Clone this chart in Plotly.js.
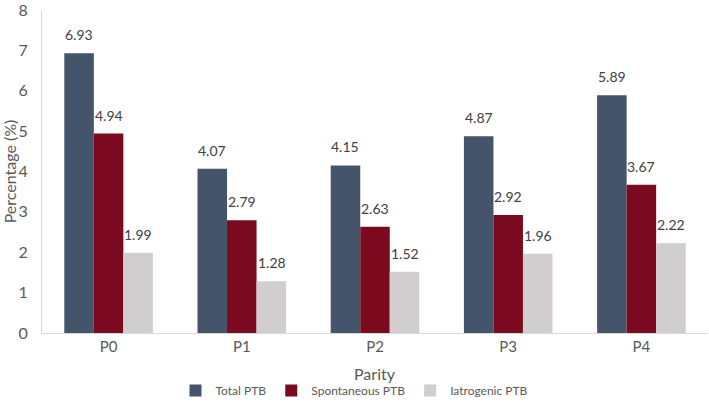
<!DOCTYPE html>
<html>
<head>
<meta charset="utf-8">
<script src="https://cdn.plot.ly/plotly-3.0.1.min.js"></script>
<style>
  html, body { margin: 0; padding: 0; background: #fff; }
  #chart { width: 709px; height: 407px; }
</style>
</head>
<body>
<div id="chart"></div>
<script>
// parity groups
const parity = ['P0', 'P1', 'P2', 'P3', 'P4']

// preterm birth rates (%)
const totalPTB = [6.93, 4.07, 4.15, 4.87, 5.89]
const spontaneousPTB = [4.94, 2.79, 2.63, 2.92, 3.67]
const iatrogenicPTB = [1.99, 1.28, 1.52, 1.96, 2.22]

const fontFamily = 'Lato, "Open Sans", sans-serif'

const series = [
  {name: 'Total PTB', values: totalPTB, color: '#44546A'},
  {name: 'Spontaneous PTB', values: spontaneousPTB, color: '#7B0A1E'},
  {name: 'Iatrogenic PTB', values: iatrogenicPTB, color: '#D0CECE'}
]

const newTrace = s => {
  return {
    type: 'bar',
    name: s.name,
    x: parity,
    y: s.values,
    marker: {color: s.color},
    hoverinfo: 'none'
  }
}

const data = series.map(newTrace)

// value labels sit above each bar; bars in a group are ~30px wide
const annotations = []
series.forEach((s, si) => {
  s.values.forEach((v, i) => {
    annotations.push({
      x: parity[i],
      y: v,
      xref: 'x',
      yref: 'y',
      text: v.toFixed(2),
      showarrow: false,
      xanchor: 'center',
      yanchor: 'bottom',
      xshift: (si - 1) * 29.7,
      yshift: 8,
      font: {family: fontFamily, size: 14, color: '#404040'}
    })
  })
})

// x axis title placed under the tick labels
annotations.push({
  x: 0.5,
  y: 0,
  xref: 'paper',
  yref: 'paper',
  text: 'Parity',
  showarrow: false,
  xanchor: 'center',
  yanchor: 'middle',
  yshift: -40,
  font: {family: fontFamily, size: 16, color: '#595959'}
})

const layout = {
  width: 709,
  height: 407,
  margin: {l: 42, r: 1, t: 10, b: 74, autoexpand: false},
  paper_bgcolor: '#ffffff',
  plot_bgcolor: '#ffffff',
  font: {family: fontFamily, color: '#595959'},
  barmode: 'group',
  bargap: 0.335,
  bargroupgap: 0,
  showlegend: true,
  annotations: annotations,
  legend: {
    orientation: 'h',
    x: 0.5,
    xref: 'container',
    xanchor: 'center',
    y: 0.005,
    yref: 'container',
    yanchor: 'bottom',
    font: {family: fontFamily, size: 12, color: '#595959'},
    itemwidth: 30,
    tracegroupgap: 0
  },
  xaxis: {
    tickfont: {family: fontFamily, size: 15, color: '#595959'},
    showline: true,
    linecolor: '#d9d9d9',
    linewidth: 1,
    ticks: '',
    showgrid: false
  },
  yaxis: {
    title: {text: 'Percentage (%)', font: {family: fontFamily, size: 16, color: '#595959'}, standoff: 6},
    range: [0, 8],
    tickvals: [0, 1, 2, 3, 4, 5, 6, 7, 8],
    tickfont: {family: fontFamily, size: 16, color: '#595959'},
    ticklabeloverflow: 'allow',
    automargin: true,
    showline: true,
    linecolor: '#d9d9d9',
    linewidth: 1,
    showgrid: false,
    zeroline: false,
    ticks: '',
    ticklabelstandoff: 10
  }
}

Plotly.newPlot('chart', data, layout, {displayModeBar: false, staticPlot: true})
</script>
</body>
</html>
